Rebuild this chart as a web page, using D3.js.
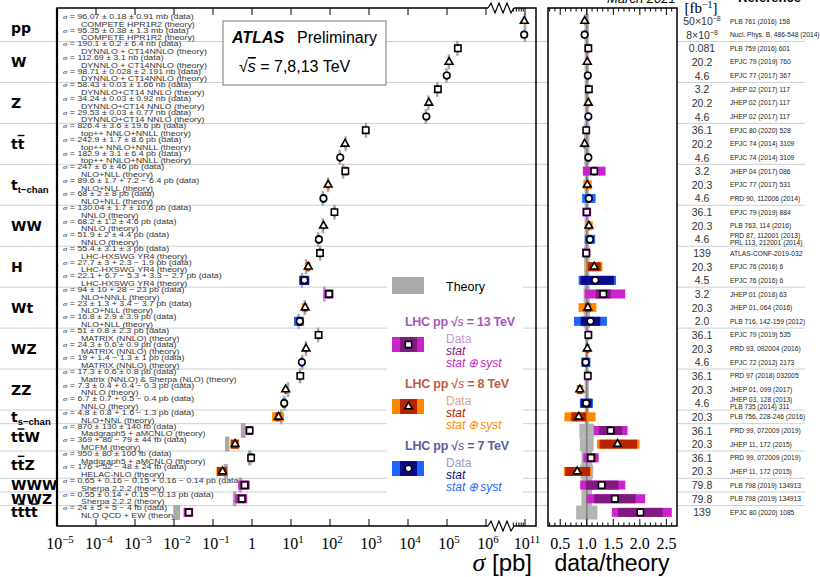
<!DOCTYPE html>
<html>
<head>
<meta charset="utf-8">
<script src="https://cdn.jsdelivr.net/npm/d3@7"></script>
<style>
body { margin: 0; background: #fff; }
text { font-family: "Liberation Sans", Arial, sans-serif; }
</style>
</head>
<body>
<svg id="chart" width="820" height="577"></svg>
<script>
// groups (label parts: [text, style]) and how many measurements each has
const groupLabels = [
  [["pp"]], [["W"]], [["Z"]], [["t"], ["t", "bar"]], [["t"], ["t\u2212chan", "sub"]],
  [["WW"]], [["H"]], [["Wt"]], [["WZ"]], [["ZZ"]], [["t"], ["s\u2212chan", "sub"]],
  [["t"], ["t", "bar"], ["W"]], [["t"], ["t", "bar"], ["Z"]], [["WWW"]], [["WWZ"]],
  [["t"], ["t", "bar"], ["t"], ["t", "bar"]]
]
const groupSizes = [2, 3, 3, 3, 3, 3, 3, 3, 3, 3, 1, 2, 2, 1, 1, 1]

// one entry per measurement, top to bottom
const energies = [8, 7, 13, 8, 7, 13, 8, 7, 13, 8, 7, 13, 8, 7, 13, 8, 7, 13, 8, 7,
  13, 8, 7, 13, 8, 7, 13, 8, 7, 8, 13, 8, 13, 8, 13, 13, 13]

const sigmaPb = [9.607e10, 9.535e10, 190100, 112690, 98710, 58430, 34240, 29530,
  826.4, 242.9, 182.9, 247, 89.6, 68, 130.04, 68.2, 51.9, 55.4, 27.7, 22.1,
  94, 23, 16.8, 51, 24.3, 19, 17.3, 7.3, 6.7, 4.8, 0.87, 0.369, 0.95, 0.176, 0.65, 0.55, 0.024]

// [down, up] in pb
const statErr = [[1.8e8, 1.8e8], [3.8e8, 3.8e8], [200, 200], [0, 0], [28, 28], [30, 30], [30, 30], [30, 30],
  [3.6, 3.6], [1.7, 1.7], [3.1, 3.1], [6, 6], [1.7, 1.7], [2, 2], [1.7, 1.7], [1.2, 1.2], [2, 2],
  [3.1, 3.1], [3, 3], [5.3, 6.7], [10, 10], [1.3, 1.3], [2.9, 2.9], [0.8, 0.8], [0.6, 0.6], [1.3, 1.4],
  [0.6, 0.6], [0.4, 0.4], [0.7, 0.7], [0.8, 0.8], [0.13, 0.13], [0.079, 0.086], [0.08, 0.08],
  [0.048, 0.052], [0.15, 0.16], [0.14, 0.14], [0.005, 0.005]]
const systErr = [[9.1e8, 9.1e8], [1.3e9, 1.3e9], [6400, 6400], [3100, 3100], [2191, 2191], [1660, 1660], [920, 920], [770, 770],
  [19.6, 19.6], [8.6, 8.6], [6.4, 6.4], [46, 46], [6.4, 7.2], [8, 8], [10.6, 10.6], [4.6, 4.6], [4.4, 4.4],
  [3, 3], [1.9, 2.3], [2.7, 3.3], [23, 28], [3.7, 3.4], [3.9, 3.9], [2.3, 2.3], [0.9, 0.9], [1, 1],
  [0.8, 0.8], [0.3, 0.4], [0.4, 0.5], [1.3, 1.6], [0.14, 0.14], [0.044, 0.044], [0.1, 0.1],
  [0.024, 0.024], [0.14, 0.16], [0.13, 0.15], [0.004, 0.005]]

const ratios = [0.96, 0.96, 1.03, 1.01, 1.02, 1.04, 1.03, 1.03, 0.99, 0.96, 1.03, 1.14, 1.01, 1.04,
  1.0, 1.04, 1.06, 0.99, 1.14, 1.16, 1.31, 1.02, 1.07, 1.03, 1.01, 0.98, 1.02, 0.87, 0.99, 0.85,
  1.45, 1.58, 1.08, 0.82, 1.28, 1.53, 2.01]

// relative theory uncertainty
const theoryUnc = [0.04, 0.04, 0.04, 0.04, 0.04, 0.04, 0.04, 0.04, 0.05, 0.05, 0.05, 0.04, 0.04, 0.04,
  0.04, 0.04, 0.04, 0.05, 0.05, 0.05, 0.06, 0.06, 0.06, 0.03, 0.03, 0.03, 0.04, 0.04, 0.04, 0.04,
  0.14, 0.13, 0.1, 0.12, 0.1, 0.1, 0.2]

const dataLabels = [
  "96.07 ± 0.18 ± 0.91 mb (data)", "95.35 ± 0.38 ± 1.3 mb (data)",
  "190.1 ± 0.2 ± 6.4 nb (data)", "112.69 ± 3.1 nb (data)", "98.71 ± 0.028 ± 2.191 nb (data)",
  "58.43 ± 0.03 ± 1.66 nb (data)", "34.24 ± 0.03 ± 0.92 nb (data)", "29.53 ± 0.03 ± 0.77 nb (data)",
  "826.4 ± 3.6 ± 19.6 pb (data)", "242.9 ± 1.7 ± 8.6 pb (data)", "182.9 ± 3.1 ± 6.4 pb (data)",
  "247 ± 6 ± 46 pb (data)", "89.6 ± 1.7 + 7.2 − 6.4 pb (data)", "68 ± 2 ± 8 pb (data)",
  "130.04 ± 1.7 ± 10.6 pb (data)", "68.2 ± 1.2 ± 4.6 pb (data)", "51.9 ± 2 ± 4.4 pb (data)",
  "55.4 ± 3.1 ± 3 pb (data)", "27.7 ± 3 + 2.3 − 1.9 pb (data)", "22.1 + 6.7 − 5.3 + 3.3 − 2.7 pb (data)",
  "94 ± 10 + 28 − 23 pb (data)", "23 ± 1.3 + 3.4 − 3.7 pb (data)", "16.8 ± 2.9 ± 3.9 pb (data)",
  "51 ± 0.8 ± 2.3 pb (data)", "24.3 ± 0.6 ± 0.9 pb (data)", "19 + 1.4 − 1.3 ± 1 pb (data)",
  "17.3 ± 0.6 ± 0.8 pb (data)", "7.3 ± 0.4 + 0.4 − 0.3 pb (data)", "6.7 ± 0.7 + 0.5 − 0.4 pb (data)",
  "4.8 ± 0.8 + 1.6 − 1.3 pb (data)",
  "870 ± 130 ± 140 fb (data)", "369 + 86 − 79 ± 44 fb (data)",
  "950 ± 80 ± 100 fb (data)", "176 + 52 − 48 ± 24 fb (data)",
  "0.65 + 0.16 − 0.15 + 0.16 − 0.14 pb (data)", "0.55 ± 0.14 + 0.15 − 0.13 pb (data)",
  "24 ± 5 + 5 − 4 fb (data)"]

const theoryLabels = [
  "COMPETE HPR1R2 (theory)", "COMPETE HPR1R2 (theory)",
  "DYNNLO + CT14NNLO (theory)", "DYNNLO + CT14NNLO (theory)", "DYNNLO + CT14NNLO (theory)",
  "DYNNLO+CT14 NNLO (theory)", "DYNNLO+CT14 NNLO (theory)", "DYNNLO+CT14 NNLO (theory)",
  "top++ NNLO+NNLL (theory)", "top++ NNLO+NNLL (theory)", "top++ NNLO+NNLL (theory)",
  "NLO+NLL (theory)", "NLO+NLL (theory)", "NLO+NLL (theory)",
  "NNLO (theory)", "NNLO (theory)", "NNLO (theory)",
  "LHC-HXSWG YR4 (theory)", "LHC-HXSWG YR4 (theory)", "LHC-HXSWG YR4 (theory)",
  "NLO+NNLL (theory)", "NLO+NLL (theory)", "NLO+NLL (theory)",
  "MATRIX (NNLO) (theory)", "MATRIX (NNLO) (theory)", "MATRIX (NNLO) (theory)",
  "Matrix (NNLO) & Sherpa (NLO) (theory)", "NNLO (theory)", "NNLO (theory)",
  "NLO+NNL (theory)",
  "Madgraph5 + aMCNLO (theory)", "MCFM (theory)",
  "Madgraph5 + aMCNLO (theory)", "HELAC-NLO (theory)",
  "Sherpa 2.2.2 (theory)", "Sherpa 2.2.2 (theory)", "NLO QCD + EW (theory)"]

const lumiLabels = ["50×10^−8", "8×10^−8", "0.081", "20.2", "4.6", "3.2", "20.2", "4.6",
  "36.1", "20.2", "4.6", "3.2", "20.3", "4.6", "36.1", "20.3", "4.6", "139", "20.3", "4.5",
  "3.2", "20.3", "2.0", "36.1", "20.3", "4.6", "36.1", "20.3", "4.6", "20.3",
  "36.1", "20.3", "36.1", "20.3", "79.8", "79.8", "139"]

const refLabels = ["PLB 761 (2016) 158", "Nucl. Phys. B, 486-548 (2014)", "PLB 759 (2016) 601",
  "EPJC 79 (2019) 760", "EPJC 77 (2017) 367", "JHEP 02 (2017) 117", "JHEP 02 (2017) 117",
  "JHEP 02 (2017) 117", "EPJC 80 (2020) 528", "EPJC 74 (2014) 3109", "EPJC 74 (2014) 3109",
  "JHEP 04 (2017) 086", "EPJC 77 (2017) 531", "PRD 90, 112006 (2014)", "EPJC 79 (2019) 884",
  "PLB 763, 114 (2016)", "PRD 87, 112001 (2013)|PRL 113, 212001 (2014)", "ATLAS-CONF-2019-032",
  "EPJC 76 (2016) 6", "EPJC 76 (2016) 6", "JHEP 01 (2018) 63", "JHEP 01, 064 (2016)",
  "PLB 716, 142-159 (2012)", "EPJC 79 (2019) 535", "PRD 93, 092004 (2016)", "EPJC 72 (2012) 2173",
  "PRD 97 (2018) 032005", "JHEP 01, 099 (2017)", "JHEP 03, 128 (2013)|PLB 735 (2014) 311",
  "PLB 756, 228-246 (2016)", "PRD 99, 072009 (2019)", "JHEP 11, 172 (2015)",
  "PRD 99, 072009 (2019)", "JHEP 11, 172 (2015)", "PLB 798 (2019) 134913",
  "PLB 798 (2019) 134913", "EPJC 80 (2020) 1085"]

const legendEnergies = [13, 8, 7]
const energyStyle = {
  13: { tot: "#cc22cc", stat: "#801a80", title: "#a557b8", data: "#c993d6", symbol: d3.symbolSquare, size: 40 },
  8: { tot: "#ff8800", stat: "#b82300", title: "#c25a40", data: "#e0a08a", symbol: d3.symbolTriangle, size: 26 },
  7: { tot: "#1c66ff", stat: "#0c0c88", title: "#5c5c9e", data: "#9b9bc8", symbol: d3.symbolCircle, size: 34 }
}

const svg = d3.select("#chart")
const plotTop = 8, plotBottom = 526
const n = energies.length
const y = d3.scaleLinear().domain([0, n - 1]).range([21, 512.4])
const rowH = y(1) - y(0)

// main panel: log scale with a break between 1e6 and 1e10
const xMain = d3.scaleLog().domain([1e-5, 1e6]).range([57, 486])
const xHigh = d3.scaleLog().domain([1e10, 1e11]).range([486, 525])
const xs = v => v > 1e8 ? xHigh(v) : xMain(v)
const mainLeft = 57, mainRight = 536
const xR = d3.scaleLinear().domain([0.27, 2.7]).range([548, 677])

const totErr = statErr.map((s, i) => [Math.hypot(s[0], systErr[i][0]), Math.hypot(s[1], systErr[i][1])])
const groupStart = d3.cumsum([0].concat(groupSizes)).slice(0, -1)

// separators
const sepY = groupStart.slice(1).map(s => y(s - 0.5))
sepY.forEach(sy => {
  svg.append("line").attr("x1", 0).attr("x2", 548).attr("y1", sy).attr("y2", sy)
    .attr("stroke", "#cfcfcf").attr("stroke-width", 1)
  svg.append("line").attr("x1", 677).attr("x2", 805).attr("y1", sy).attr("y2", sy)
    .attr("stroke", "#cfcfcf").attr("stroke-width", 1)
})

// group labels
groupLabels.forEach((parts, g) => {
  const cy = (y(groupStart[g]) + y(groupStart[g] + groupSizes[g] - 1)) / 2
  const t = svg.append("text").attr("x", 11).attr("y", cy + 5)
    .style("font-family", "'DejaVu Sans', sans-serif").style("font-weight", "bold").style("font-size", "14px")
  parts.forEach(p => {
    const ts = t.append("tspan").text(p[0])
    if (p[1] === "sub") ts.style("font-family", "'Liberation Sans', sans-serif").style("font-size", "9.5px").attr("dy", 3)
    if (p[1] === "bar") ts.style("text-decoration", "overline")
  })
})

// annotations (stretched horizontally like the original condensed-height text)
energies.forEach((e, i) => {
  const d = svg.append("text").attr("transform", `translate(63,${y(i) - 2}) scale(1.3,1)`)
    .style("font-size", "6.8px").attr("fill", "#333")
  d.append("tspan").text("σ").style("font-family", "'Liberation Serif', serif").style("font-style", "italic")
  d.append("tspan").text(" = " + dataLabels[i])
  svg.append("text").attr("transform", `translate(81,${y(i) + 5.7}) scale(1.3,1)`)
    .style("font-size", "6.8px").attr("fill", "#333").text(theoryLabels[i])
})

// ATLAS box
svg.append("rect").attr("x", 223).attr("y", 21).attr("width", 163).attr("height", 64)
  .attr("fill", "#fff").attr("stroke", "#777").attr("stroke-width", 1)
svg.append("text").attr("x", 232).attr("y", 43).style("font-size", "16px")
  .style("font-weight", "bold").style("font-style", "italic").text("ATLAS")
svg.append("text").attr("x", 297).attr("y", 43).style("font-size", "16px").text("Preliminary")
const sq = svg.append("text").attr("x", 239).attr("y", 72).style("font-size", "16px")
sq.append("tspan").text("√")
sq.append("tspan").text("s").style("font-style", "italic").style("text-decoration", "overline")
sq.append("tspan").text(" = 7,8,13 TeV")

// legend
svg.append("rect").attr("x", 387).attr("y", 268).attr("width", 136).attr("height", 230).attr("fill", "#fff")
svg.append("rect").attr("x", 392).attr("y", 277).attr("width", 32).attr("height", 17).attr("fill", "#aaa")
svg.append("text").attr("x", 446).attr("y", 291).style("font-size", "12.5px").text("Theory")
legendEnergies.forEach((e, k) => {
  const st = energyStyle[e]
  const y0 = 321 + k * 62
  const tt = svg.append("text").attr("x", 405).attr("y", y0 + 4.5).style("font-size", "12.5px")
    .style("font-weight", "bold").attr("fill", st.title)
    .attr("textLength", e === 13 ? 110 : 104).attr("lengthAdjust", "spacing")
  tt.append("tspan").text("LHC pp  √")
  tt.append("tspan").text("s").style("font-style", "italic").style("font-weight", "normal")
  tt.append("tspan").text(" = " + e + " TeV")
  svg.append("rect").attr("x", 392).attr("y", y0 + 16).attr("width", 32).attr("height", 15).attr("fill", st.tot)
  svg.append("rect").attr("x", 400).attr("y", y0 + 16).attr("width", 17).attr("height", 15).attr("fill", st.stat)
  svg.append("path").attr("d", d3.symbol(st.symbol, st.size)())
    .attr("transform", `translate(408.5,${y0 + 23.5})`)
    .attr("fill", "#fff").attr("stroke", "#000").attr("stroke-width", 1.6)
  svg.append("text").attr("x", 446).attr("y", y0 + 22).style("font-size", "12px").attr("fill", st.data).text("Data")
  svg.append("text").attr("x", 446).attr("y", y0 + 34).style("font-size", "12px")
    .style("font-style", "italic").attr("fill", st.stat).text("stat")
  svg.append("text").attr("x", 446).attr("y", y0 + 45.5).style("font-size", "12px")
    .style("font-style", "italic").attr("fill", st.tot).text("stat\u2009⊕\u2009syst")
})

// main panel marks
energies.forEach((e, i) => {
  const st = energyStyle[e]
  const cy = y(i)
  const th = sigmaPb[i] / ratios[i]
  let x0 = xs(th * (1 - theoryUnc[i])), x1 = xs(th * (1 + theoryUnc[i]))
  if (x1 - x0 < 2.5) { const c = xs(th); x0 = c - 1.25; x1 = c + 1.25 }
  svg.append("rect").attr("x", x0).attr("y", cy - 7.5).attr("width", x1 - x0).attr("height", 15).attr("fill", "#aaa")
  const t0 = xs(sigmaPb[i] - totErr[i][0]), t1 = xs(sigmaPb[i] + totErr[i][1])
  svg.append("rect").attr("x", t0).attr("y", cy - 4.5).attr("width", Math.max(t1 - t0, 1)).attr("height", 9).attr("fill", st.tot)
  const s0 = xs(sigmaPb[i] - statErr[i][0]), s1 = xs(sigmaPb[i] + statErr[i][1])
  svg.append("rect").attr("x", s0).attr("y", cy - 4.5).attr("width", s1 - s0).attr("height", 9).attr("fill", st.stat)
  svg.append("path").attr("d", d3.symbol(st.symbol, st.size)())
    .attr("transform", `translate(${xs(sigmaPb[i])},${cy})`)
    .attr("fill", "#fff").attr("stroke", "#000").attr("stroke-width", 1.6)
})

// main axes
const zig = (yy) => `M488,${yy} L491,${yy - 5} L495,${yy + 5} L499,${yy - 5} L503,${yy + 5} L507,${yy - 5} L511,${yy + 5} L514,${yy}`
svg.append("path").attr("d", `M488,${plotBottom} L${mainLeft},${plotBottom} L${mainLeft},${plotTop} L488,${plotTop}`)
  .attr("fill", "none").attr("stroke", "#000").attr("stroke-width", 1.5)
svg.append("line").attr("x1", mainLeft).attr("x2", mainLeft).attr("y1", plotTop).attr("y2", plotBottom)
  .attr("stroke", "#000").attr("stroke-width", 2.2)
svg.append("path").attr("d", `M514,${plotBottom} L${mainRight},${plotBottom} L${mainRight},${plotTop} L514,${plotTop}`)
  .attr("fill", "none").attr("stroke", "#000").attr("stroke-width", 1.5)
svg.append("path").attr("d", zig(plotBottom)).attr("fill", "none").attr("stroke", "#000").attr("stroke-width", 1.2)
svg.append("path").attr("d", zig(plotTop)).attr("fill", "none").attr("stroke", "#000").attr("stroke-width", 1.2)

const isMajor = v => Math.abs(Math.log10(v) - Math.round(Math.log10(v))) < 1e-6
const mainTicks = xMain.ticks().map(v => [xMain(v), isMajor(v)])
  .concat(xHigh.ticks().filter(v => xHigh(v) >= 513).map(v => [xHigh(v), isMajor(v)]))
mainTicks.forEach(([tx, major]) => {
  if (tx > 488 && tx < 513) return
  const len = major ? 7 : 3.5
  svg.append("line").attr("x1", tx).attr("x2", tx).attr("y1", plotBottom).attr("y2", plotBottom - len).attr("stroke", "#000")
  svg.append("line").attr("x1", tx).attr("x2", tx).attr("y1", plotTop).attr("y2", plotTop + len).attr("stroke", "#000")
})
const tickLabel = (x, txt, sup) => {
  const t = svg.append("text").attr("x", x).attr("y", 549).attr("text-anchor", "middle")
    .style("font-family", "'Liberation Serif', serif").style("font-size", "16px")
  t.append("tspan").text(txt)
  if (sup) t.append("tspan").text(sup).attr("dy", -6).style("font-size", "11px")
}
d3.range(-5, 7).forEach(p => {
  const px = xMain(Math.pow(10, p))
  if (p === 0) tickLabel(px, "1")
  else tickLabel(px + (p < 0 ? 3 : 2), "10", p < 0 ? "\u2212" + (-p) : String(p))
})
tickLabel(xHigh(1e11) + 2, "10", "11")
const xl = svg.append("text").attr("x", 532).attr("y", 571).attr("text-anchor", "end").style("font-size", "24px")
xl.append("tspan").text("σ").style("font-family", "'Liberation Serif', serif").style("font-style", "italic").style("font-size", "26px")
xl.append("tspan").text(" [pb]")

// ratio panel
energies.forEach((e, i) => {
  svg.append("rect").attr("x", xR(1 - theoryUnc[i])).attr("y", y(i) - rowH / 2)
    .attr("width", xR(1 + theoryUnc[i]) - xR(1 - theoryUnc[i])).attr("height", rowH + 0.3).attr("fill", "#b4b4b4")
})
svg.append("line").attr("x1", xR(1)).attr("x2", xR(1)).attr("y1", plotTop).attr("y2", plotBottom)
  .attr("stroke", "#808080").attr("stroke-width", 1.6)
energies.forEach((e, i) => {
  const st = energyStyle[e]
  const r = ratios[i], k = r / sigmaPb[i], cy = y(i)
  const t0 = xR(r - totErr[i][0] * k), t1 = xR(r + totErr[i][1] * k)
  svg.append("rect").attr("x", t0).attr("y", cy - 4.5).attr("width", t1 - t0).attr("height", 9).attr("fill", st.tot)
  const s0 = xR(r - statErr[i][0] * k), s1 = xR(r + statErr[i][1] * k)
  svg.append("rect").attr("x", s0).attr("y", cy - 4.5).attr("width", s1 - s0).attr("height", 9).attr("fill", st.stat)
  svg.append("path").attr("d", d3.symbol(st.symbol, st.size)())
    .attr("transform", `translate(${xR(r)},${cy})`)
    .attr("fill", "#fff").attr("stroke", "#000").attr("stroke-width", 1.6)
})
svg.append("rect").attr("x", 548).attr("y", plotTop).attr("width", 129).attr("height", plotBottom - plotTop)
  .attr("fill", "none").attr("stroke", "#000").attr("stroke-width", 1.5)
d3.range(3, 27).map(v => v / 10).forEach(v => {
  const major = Math.abs(v * 2 - Math.round(v * 2)) < 1e-6
  const len = major ? 7 : 3.5
  svg.append("line").attr("x1", xR(v)).attr("x2", xR(v)).attr("y1", plotBottom).attr("y2", plotBottom - len).attr("stroke", "#000")
  svg.append("line").attr("x1", xR(v)).attr("x2", xR(v)).attr("y1", plotTop).attr("y2", plotTop + len).attr("stroke", "#000")
})
;[0.5, 1.0, 1.5, 2.0, 2.5].forEach(v => {
  svg.append("text").attr("x", xR(v)).attr("y", 549).attr("text-anchor", "middle")
    .style("font-family", "'Liberation Serif', serif").style("font-size", "16px").text(v.toFixed(1))
})
svg.append("text").attr("x", 612).attr("y", 571).attr("text-anchor", "middle").style("font-size", "23px").text("data/theory")

// headers
svg.append("text").attr("x", 607).attr("y", 3).style("font-size", "13px").style("font-style", "italic").text("March 2021")
svg.append("text").attr("x", 738).attr("y", 2).style("font-size", "13px").style("font-weight", "bold").text("Reference")
const fb = svg.append("text").attr("x", 701).attr("y", 13).attr("text-anchor", "middle")
  .style("font-family", "'Liberation Serif', serif").style("font-size", "15px")
fb.append("tspan").text("[fb")
fb.append("tspan").text("\u22121").attr("dy", -5).style("font-size", "10px")
fb.append("tspan").text("]").attr("dy", 5)

// luminosity and reference columns
lumiLabels.forEach((l, i) => {
  const t = svg.append("text").attr("x", 702).attr("y", y(i) + 4).attr("text-anchor", "middle")
    .style("font-size", "10.5px").attr("fill", "#333")
  const parts = l.split("^")
  t.append("tspan").text(parts[0])
  if (parts[1]) t.append("tspan").text(parts[1]).attr("dy", -4).style("font-size", "7px")
})
refLabels.forEach((r, i) => {
  const lines = r.split("|")
  lines.forEach((ln, j) => {
    const yy = lines.length > 1 ? y(i) - 1.6 + j * 7 : y(i) + 2.5
    svg.append("text").attr("x", 730).attr("y", yy).style("font-size", "6.7px")
      .attr("fill", "#222").text(ln)
  })
})
</script>
</body>
</html>
